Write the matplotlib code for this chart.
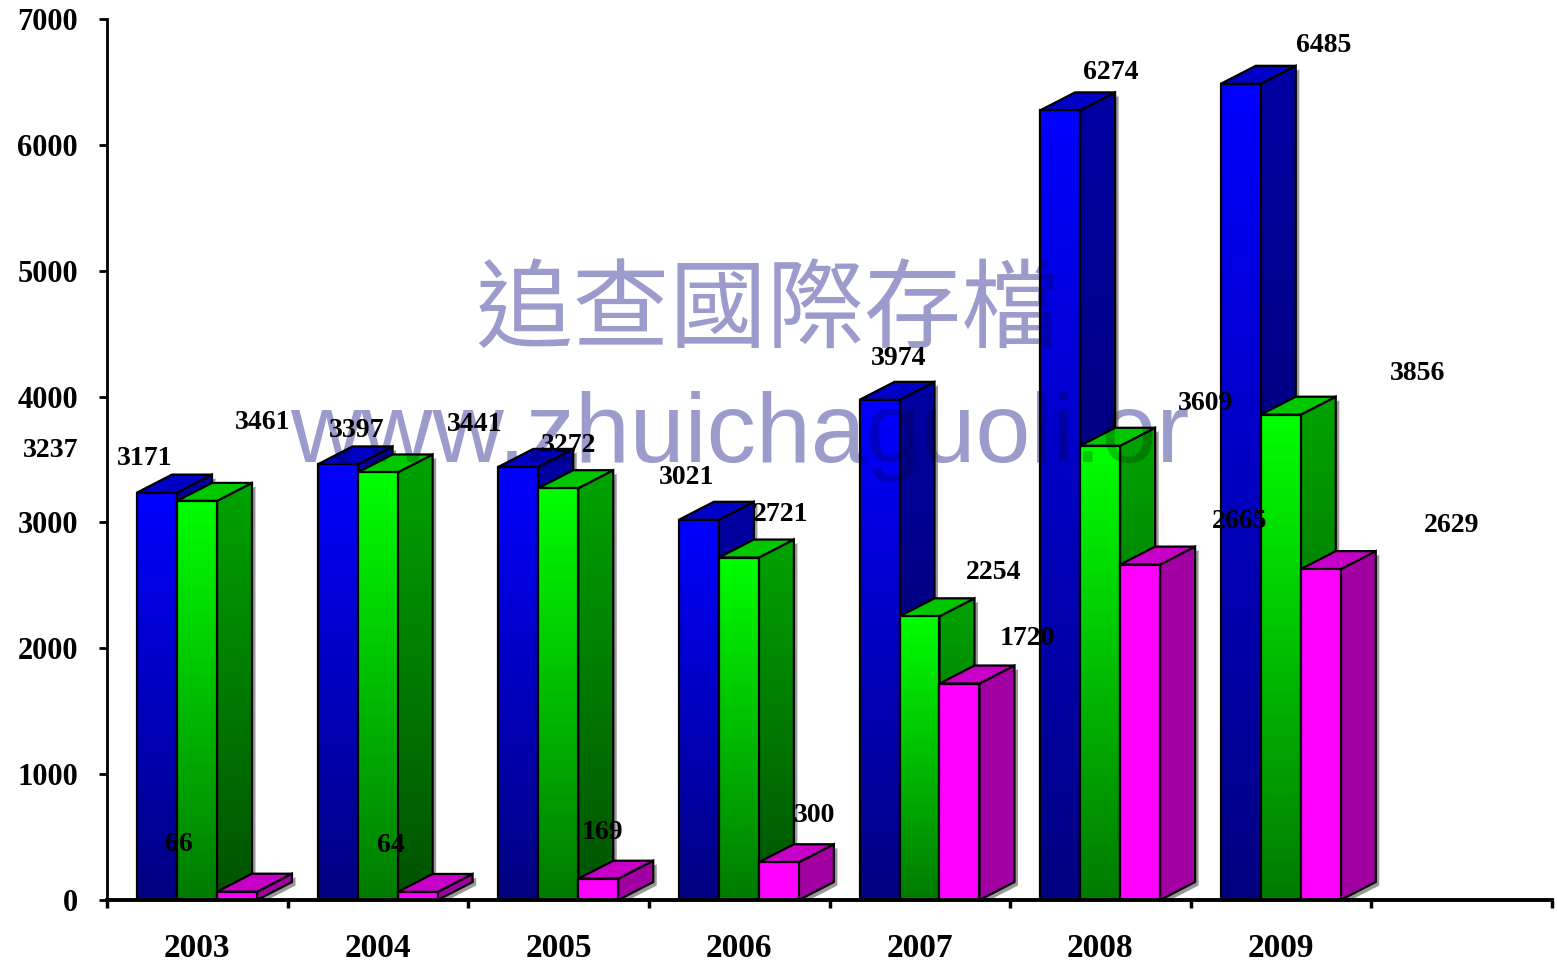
import numpy as np
import matplotlib
matplotlib.use("Agg")
import matplotlib.pyplot as plt
from matplotlib.patches import Polygon

# ---------------- data ----------------
years = ["2003", "2004", "2005", "2006", "2007", "2008", "2009"]
series_blue = [3237, 3461, 3441, 3021, 3974, 6274, 6485]
series_green = [3171, 3397, 3272, 2721, 2254, 3609, 3856]
series_magenta = [66, 64, 169, 300, 1720, 2665, 2629]
y_ticks = [0, 1000, 2000, 3000, 4000, 5000, 6000, 7000]

# ---------------- styles ----------------
# (front top, front bottom, side top, side bottom, top face)
styles = [
    ((0, 0, 1.0), (0, 0, 0.50), (0, 0, 0.64), (0, 0, 0.36), (0, 0, 0.78)),
    ((0, 1.0, 0), (0, 0.48, 0), (0, 0.64, 0), (0, 0.32, 0), (0, 0.78, 0)),
    ((1.0, 0, 1.0), (1.0, 0, 1.0), (0.64, 0, 0.64), (0.64, 0, 0.64), (0.78, 0, 0.78)),
]
# data-label placement (per series offset, label spacing factor)
label_off = [-0.813, -0.292, -0.104]
label_spread = 1.1745
label_yscale, label_yshift = 0.989, 373

W, H = 1557, 965
L, R, B, T = 107, 1552, 900, 19
fig = plt.figure(figsize=(W / 100, H / 100), dpi=100)
ax = fig.add_axes([L / W, 1 - B / H, (R - L) / W, (B - T) / H])
ax.set_facecolor("white")

nslots = 8
px_x = (R - L) / nslots
px_y = (B - T) / 7000.0
DX = 35 / px_x
DY = 18 / px_y
BW = 40 / px_x
START = 30 / px_x
SX, SY = 3.5 / px_x, -3.5 / px_y

serif = ["Liberation Serif", "DejaVu Serif"]

# watermark (behind bars)
wm_cjk = "追查國際存檔"
wm_url = "www.zhuichaguoli.or"
cjk_fam = ["Noto Sans CJK TC", "DejaVu Sans"]
url_fam = ["Liberation Sans", "DejaVu Sans"]
ax.text(767 / W, 1 - 312 / H, wm_cjk, ha="center", va="center", fontsize=70,
        family=cjk_fam, color=(0.77, 0.77, 1.0), zorder=0.5,
        transform=fig.transFigure, clip_on=False)
ax.text(290 / W, 1 - 462 / H, wm_url, ha="left", va="baseline", fontsize=71,
        family=url_fam, color=(0.77, 0.77, 1.0), zorder=0.5,
        transform=fig.transFigure, clip_on=False)


def grad(c_top, c_bot, n=256):
    t = np.linspace(0, 1, n)[:, None, None]
    a = np.array(c_bot)[None, None, :] * (1 - t) + np.array(c_top)[None, None, :] * t
    return a


z = 2.0
all_series = [series_blue, series_green, series_magenta]
for i in range(len(years)):
    for s, vals in enumerate(all_series):
        v = vals[i]
        ft, fb, st, sb, tc = styles[s]
        x0 = i - 0.5 + START + s * BW
        x1 = x0 + BW
        side = [(x1, 0), (x1 + DX, DY), (x1 + DX, v + DY), (x1, v)]
        top = [(x0, v), (x1, v), (x1 + DX, v + DY), (x0 + DX, v + DY)]
        # shadow
        shadow = [(px + SX, py + SY) for px, py in side]
        ax.add_patch(Polygon(shadow, closed=True, facecolor=(0.6, 0.6, 0.6),
                             edgecolor="none", zorder=z)); z += 0.01
        # side face gradient
        sp = Polygon(side, closed=True, facecolor="none", edgecolor="none")
        ax.add_patch(sp)
        im = ax.imshow(grad(st, sb), extent=[x1, x1 + DX, 0, v + DY], origin="lower",
                       aspect="auto", interpolation="bilinear", zorder=z)
        im.set_clip_path(sp); z += 0.01
        ax.add_patch(Polygon(side, closed=True, facecolor="none", edgecolor="black",
                             lw=1.6, zorder=z, joinstyle="miter")); z += 0.01
        # top face
        ax.add_patch(Polygon(top, closed=True, facecolor=tc, edgecolor="black",
                             lw=1.6, zorder=z, joinstyle="miter")); z += 0.01
        # front face gradient
        ax.imshow(grad(ft, fb), extent=[x0, x1, 0, v], origin="lower", aspect="auto",
                  interpolation="bilinear", zorder=z); z += 0.01
        ax.add_patch(Polygon([(x0, 0), (x1, 0), (x1, v), (x0, v)], closed=True,
                             facecolor="none", edgecolor="black", lw=1.6, zorder=z,
                             joinstyle="miter")); z += 0.01

# watermark tint over bars (multiply-like darkening)
ax.text(767 / W, 1 - 312 / H, wm_cjk, ha="center", va="center", fontsize=70,
        family=cjk_fam, color="black", alpha=0.2, zorder=50,
        transform=fig.transFigure, clip_on=False)
ax.text(290 / W, 1 - 462 / H, wm_url, ha="left", va="baseline", fontsize=71,
        family=url_fam, color="black", alpha=0.2, zorder=50,
        transform=fig.transFigure, clip_on=False)

# data labels
for s, vals in enumerate(all_series):
    for i, v in enumerate(vals):
        lx = label_off[s] + label_spread * i
        ly = label_yscale * v + label_yshift
        ax.text(lx, ly, str(v), ha="center", va="center", fontsize=20,
                fontweight="bold", family=serif, clip_on=False, zorder=300)

ax.set_xlim(-0.5, nslots - 0.5)
ax.set_ylim(0, 7000)

# axes styling
for sp_name in ["top", "right"]:
    ax.spines[sp_name].set_visible(False)
ax.spines["left"].set_linewidth(2)
ax.spines["bottom"].set_linewidth(2.8)
ax.spines["left"].set_zorder(400)
ax.spines["bottom"].set_zorder(400)

ax.set_yticks(y_ticks)
ax.set_yticklabels([str(t) for t in y_ticks], fontsize=22, fontweight="bold", family=serif)
ax.tick_params(axis="y", direction="out", length=6, width=2, pad=15)

ax.set_xticks(range(len(years)))
ax.set_xticklabels(years, fontsize=24, fontweight="bold", family=serif)
ax.set_xticks(np.arange(-0.5, nslots, 1.0), minor=True)
ax.tick_params(axis="x", which="major", length=0, pad=24)
ax.tick_params(axis="x", which="minor", direction="out", length=6, width=2.5)

fig.savefig("out.png", dpi=100, facecolor="white")
